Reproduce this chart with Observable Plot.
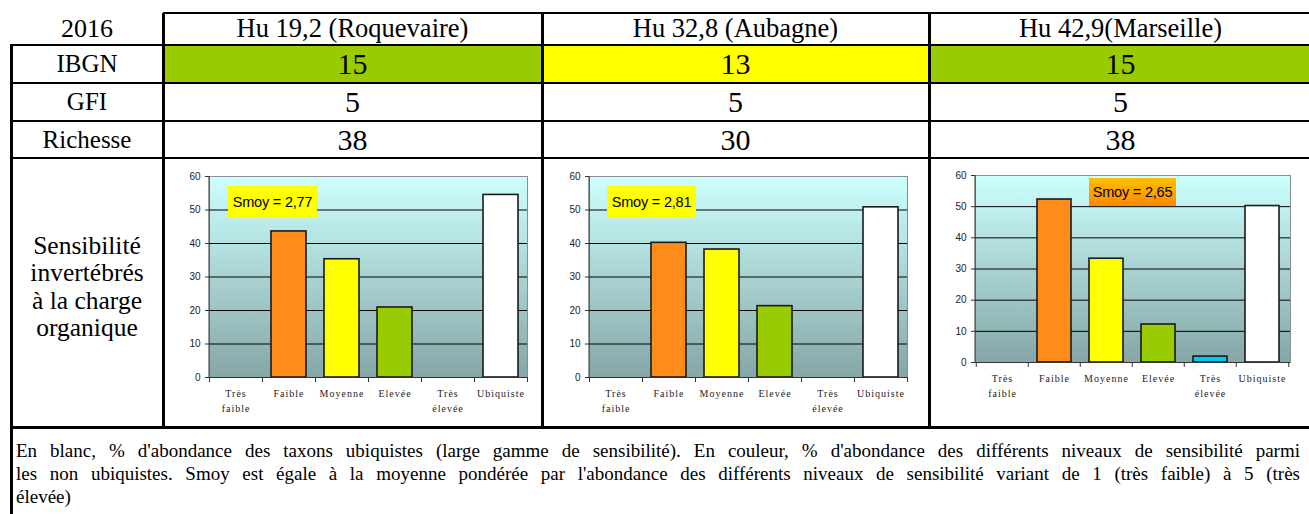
<!DOCTYPE html>
<html><head><meta charset="utf-8">
<script src="https://cdn.jsdelivr.net/npm/d3@7"></script>
<script src="https://cdn.jsdelivr.net/npm/@observablehq/plot@0.6"></script>
<style>
html,body{margin:0;padding:0;background:#fff;}
#page{position:relative;width:1309px;height:514px;overflow:hidden;font-family:"Liberation Serif","Times New Roman",serif;color:#000;}
.cell{position:absolute;display:flex;align-items:center;justify-content:center;text-align:center;box-sizing:border-box;font-family:"Liberation Serif","Times New Roman",serif;}
.ln{position:absolute;background:#000;}
.chart{position:absolute;}
.smoy{position:absolute;display:flex;align-items:center;justify-content:center;font-family:"Liberation Sans",Arial,sans-serif;font-size:14.5px;color:#000;letter-spacing:-0.2px;}
.caption{position:absolute;font-family:"Liberation Serif","Times New Roman",serif;font-size:19px;line-height:23px;}
.caption div{text-align:justify;text-align-last:justify;white-space:nowrap;height:23px;}
.caption div.last{text-align-last:left;}
</style></head><body><div id="page"></div>
<script>
// ---------- data ----------
const year = "2016";
const sites = ["Hu 19,2 (Roquevaire)", "Hu 32,8 (Aubagne)", "Hu 42,9(Marseille)"];
const rowLabels = ["IBGN", "GFI", "Richesse"];
const ibgn = [15, 13, 15];
const gfi = [5, 5, 5];
const richesse = [38, 30, 38];
const sensLabel = ["Sensibilité", "invertébrés", "à la charge", "organique"];
const smoy = [2.77, 2.81, 2.65];
const categories = ["Très faible", "Faible", "Moyenne", "Elevée", "Très élevée", "Ubiquiste"];
const roquevaire = [0, 43.6, 35.3, 20.9, 0, 54.5];
const aubagne = [0, 40.2, 38.2, 21.3, 0, 50.8];
const marseille = [0, 52.3, 33.3, 12.2, 1.9, 50.2];
const yTicks = [0, 10, 20, 30, 40, 50, 60];
const captionLines = [
  "En blanc, % d'abondance des taxons ubiquistes (large gamme de sensibilité). En couleur, % d'abondance des différents niveaux de sensibilité parmi",
  "les non ubiquistes. Smoy est égale à la moyenne pondérée par l'abondance des différents niveaux de sensibilité variant de 1 (très faible) à 5 (très",
  "élevée)"
];

// ---------- styles ----------
const catColors = ["#4a7ebb", "#ff8c1a", "#ffff00", "#99cc00", "#00c8f0", "#ffffff"];
const ibgnColor = v => v >= 14 ? "#99cc00" : v >= 10 ? "#ffff00" : "#ff9900";
const colX = [11, 163, 542, 929, 1312];
const rowY = [13, 44.5, 83, 121, 158, 427];

const page = document.getElementById("page");
function el(cls, css, html) {
  const d = document.createElement("div");
  d.className = cls;
  Object.assign(d.style, css);
  if (html !== undefined) d.innerHTML = html;
  page.appendChild(d);
  return d;
}
function cell(c, r, text, css = {}) {
  return el("cell", Object.assign({
    left: colX[c] + "px", top: rowY[r] + "px",
    width: (colX[c + 1] - colX[c]) + "px", height: (rowY[r + 1] - rowY[r]) + "px"
  }, css), text);
}

// header row
cell(0, 0, year, {fontSize: "26px"});
sites.forEach((s, i) => cell(i + 1, 0, s, {fontSize: "26.5px"}));
// data rows
const rows = [ibgn, gfi, richesse];
rows.forEach((vals, r) => {
  cell(0, r + 1, rowLabels[r], {fontSize: "25px"});
  vals.forEach((v, i) => cell(i + 1, r + 1, String(v), {
    fontSize: "30px", background: r === 0 ? ibgnColor(v) : "transparent"
  }));
});
// sensitivity label
cell(0, 4, sensLabel.join("<br>"), {fontSize: "25.5px", lineHeight: "27.3px", paddingBottom: "12px"});

// caption
const cap = el("caption", {left: "16px", top: "439px", width: "1284px"});
captionLines.forEach((t, i) => {
  const d = document.createElement("div");
  if (i === captionLines.length - 1) d.className = "last";
  d.textContent = t;
  cap.appendChild(d);
});

// grid lines of the table
const H = 2, V = 3;
el("ln", {left: colX[1] + "px", top: (rowY[0] - 1) + "px", width: (1312 - colX[1]) + "px", height: H + "px"});
[1, 2, 3, 4].forEach(r => el("ln", {left: colX[0] - 1 + "px", top: (rowY[r] - 1) + "px", width: (1312 - colX[0]) + "px", height: H + "px"}));
el("ln", {left: colX[0] - 1 + "px", top: (rowY[5] - 1.5) + "px", width: (1312 - colX[0]) + "px", height: "3px"});
el("ln", {left: (colX[0] - 1.5) + "px", top: rowY[1] + "px", width: V + "px", height: (514 - rowY[1]) + "px"});
[1, 2, 3].forEach(c => el("ln", {left: (colX[c] - 1.5) + "px", top: rowY[0] + "px", width: V + "px", height: (rowY[5] - rowY[0]) + "px"}));

// ---------- charts ----------
function makeChart(values, o) {
  const data = categories.map((c, i) => ({cat: c, value: values[i]})).filter(d => d.value > 0);
  const step = (o.width - o.ml - o.mr) / categories.length;
  const gid = "grad" + o.id;
  const svg = Plot.plot({
    width: o.width, height: o.height,
    marginLeft: o.ml, marginRight: o.mr, marginTop: o.mt, marginBottom: o.mb,
    style: {fontFamily: "'Liberation Sans', Arial, sans-serif", fontSize: "10px", color: "#222", background: "transparent", overflow: "visible"},
    x: {domain: categories, paddingInner: 0.34, paddingOuter: 0.17, label: null},
    y: {domain: [0, 60], label: null},
    color: {domain: categories, range: catColors},
    marks: [
      () => {
        const ns = "http://www.w3.org/2000/svg";
        const defs = document.createElementNS(ns, "defs");
        defs.innerHTML = `<linearGradient id="${gid}" x1="0" y1="0" x2="0" y2="1">
          <stop offset="0" stop-color="#ccffff"/><stop offset="1" stop-color="#86a6a6"/></linearGradient>`;
        return defs;
      },
      Plot.frame({fill: `url(#${gid})`, stroke: "#8c8c8c"}),
      Plot.ruleY(yTicks.filter(t => t > 0 && t < 60), {stroke: "#000", strokeWidth: 1}),
      Plot.barY(data, {x: "cat", y: "value", fill: "cat", stroke: "#1a1a1a", strokeWidth: 1.6}),
      Plot.ruleY([0], {stroke: "#333"}),
      Plot.axisY({ticks: yTicks, tickSize: 4, tickPadding: 5, stroke: "#333"}),
      Plot.axisX({tickSize: 5, tickFormat: () => "", dx: -step / 2, stroke: "#333"}),
      Plot.axisX([categories[categories.length - 1]], {tickSize: 5, tickFormat: () => "", dx: step / 2, stroke: "#333"}),
      Plot.axisX({tickSize: 0, tickPadding: 9, fontFamily: "'Liberation Serif', 'Times New Roman', serif", fontSize: 10, lineHeight: 1.5,
        tickFormat: d => d.startsWith("Très ") ? d.replace(" ", "\n") : d})
    ]
  });
  // left axis line
  const ns = "http://www.w3.org/2000/svg";
  const line = document.createElementNS(ns, "line");
  const x0 = o.ml;
  line.setAttribute("x1", x0); line.setAttribute("x2", x0);
  line.setAttribute("y1", o.mt); line.setAttribute("y2", o.height - o.mb);
  line.setAttribute("stroke", "#333");
  svg.appendChild(line);
  svg.querySelectorAll('[aria-label="x-axis tick label"] text').forEach(t => t.style.letterSpacing = "1px");
  const wrap = el("chart", {left: o.left + "px", top: o.top + "px", width: o.width + "px", height: o.height + "px"});
  wrap.appendChild(svg);
  const box = document.createElement("div");
  box.className = "smoy";
  Object.assign(box.style, {left: o.bx + "px", top: o.by + "px", width: o.bw + "px", height: o.bh + "px", background: o.bg});
  box.textContent = "Smoy = " + o.smoy.toFixed(2).replace(".", ",");
  wrap.appendChild(box);
}

makeChart(roquevaire, {id: 1, left: 164, top: 159, width: 377, height: 267, ml: 45, mr: 14, mt: 17, mb: 49,
  bx: 64, by: 27, bw: 89, bh: 31, bg: "#ffff00", smoy: smoy[0]});
makeChart(aubagne, {id: 2, left: 543, top: 159, width: 385, height: 267, ml: 46, mr: 21, mt: 17, mb: 49,
  bx: 64, by: 27, bw: 89, bh: 31, bg: "#ffff00", smoy: smoy[1]});
makeChart(marseille, {id: 3, left: 930, top: 159, width: 379, height: 267, ml: 45, mr: 19, mt: 16, mb: 64,
  bx: 159, by: 19, bw: 87, bh: 28, bg: "linear-gradient(to bottom, #ffc000, #ff8800)", smoy: smoy[2]});
</script>
</body></html>
